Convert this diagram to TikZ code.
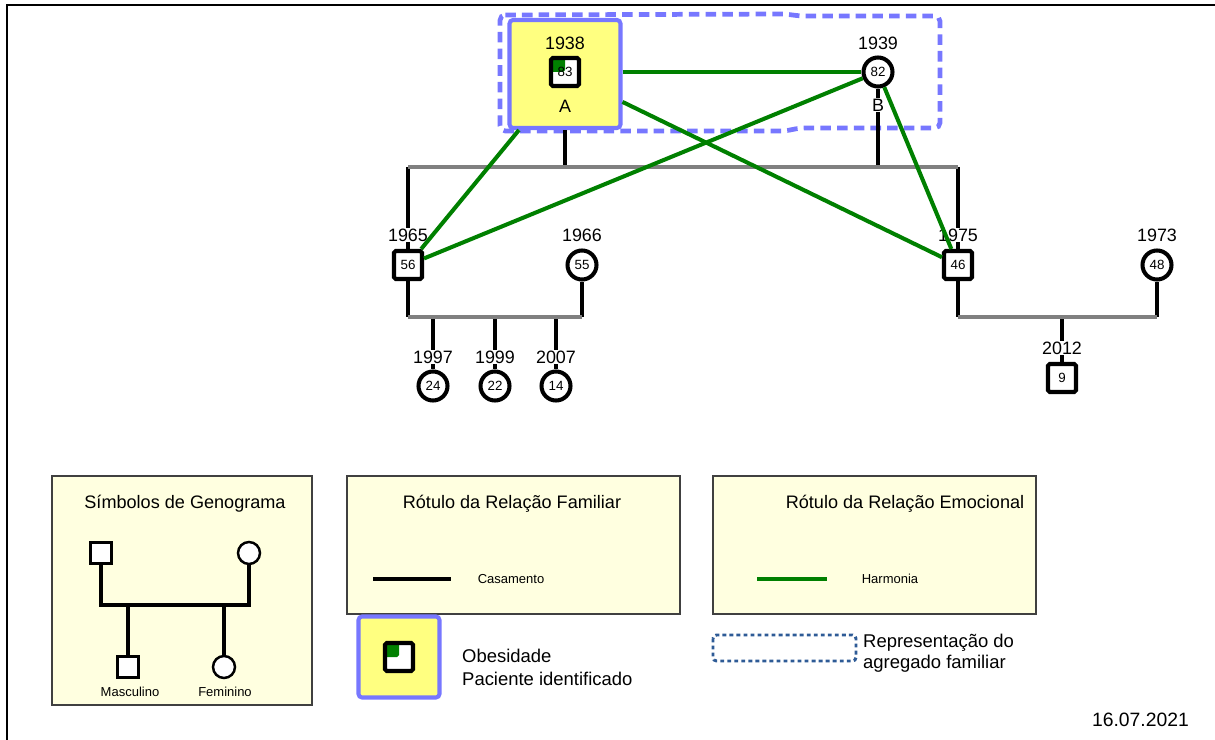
\documentclass[tikz,border=0pt]{standalone}
\usepackage{fontspec}
\setmainfont{Liberation Sans}
\usetikzlibrary{positioning}
\definecolor{hiyellow}{HTML}{FFFF80}
\definecolor{hiblue}{HTML}{7777FF}
\definecolor{legendbg}{HTML}{FFFFE0}
\definecolor{relgreen}{HTML}{008000}
\definecolor{bargray}{HTML}{808080}
\definecolor{dotblue}{HTML}{2E5B96}

\begin{document}
\begin{tikzpicture}[x=0.02cm,y=-0.02cm,
	male/.style={draw=black,line width=2.3pt,fill=white,minimum size=0.56cm,rounded corners=1pt,inner sep=0pt,font=\fontsize{7.6}{8}\selectfont},
	female/.style={circle,draw=black,line width=2.3pt,fill=white,minimum size=0.58cm,inner sep=0pt,font=\fontsize{7.6}{8}\selectfont},
	index/.style={male,path picture={\fill[relgreen] (path picture bounding box.north west) rectangle (path picture bounding box.center);}},
	smale/.style={draw=black,line width=1.4pt,fill=white,minimum size=0.42cm,inner sep=0pt},
	sfemale/.style={circle,draw=black,line width=1.4pt,fill=white,minimum size=0.44cm,inner sep=0pt},
	year/.style={fill=white,inner sep=0.6pt,font=\fontsize{10.2}{12}\selectfont},
	parent/.style={line width=2.3pt,black},
	union/.style={line width=2.3pt,bargray},
	harmony/.style={line width=2.3pt,relgreen},
	legendbox/.style={draw=black!75,line width=0.9pt,fill=legendbg},
	title/.style={font=\fontsize{10.3}{12}\selectfont},
	small/.style={font=\fontsize{7.4}{9}\selectfont},
	txt/.style={anchor=west,font=\fontsize{10.5}{12.5}\selectfont},
	patient/.style={draw=hiblue,fill=hiyellow,line width=2.3pt,rounded corners=2pt}]
	\useasboundingbox (0,0) rectangle (1215,740);
	% frame
	\draw[line width=1.2pt] (7,740) -- (7,5) -- (1215,5);

	% household
	\draw[hiblue,line width=2.7pt,dash pattern=on 6pt off 3.5pt,rounded corners=3pt]
	(500,15) -- (785,14) -- (800,16) -- (940,16) -- (940,128) -- (800,128) -- (785,131) -- (500,131) -- cycle;
	\node[patient,minimum width=2.22cm,minimum height=2.16cm] (Abox) at (565,74) {};

	% persons
	\node[index] (pA) at (565,72) {83};
	\node[female] (pB) at (878,72) {82};
	\node[male] (n56) at (408,265) {56};
	\node[female] (n55) at (582,265) {55};
	\node[male] (n46) at (958,265) {46};
	\node[female] (n48) at (1157,265) {48};
	\node[female] (c24) at (433,386) {24};
	\node[female] (c22) at (495,386) {22};
	\node[female] (c14) at (556,386) {14};
	\node[male] (c9) at (1062,378) {9};

	% marriage A - B
	\coordinate (jA) at (565,167);
	\coordinate (jB) at (878,167);
	\coordinate (j56) at (408,167);
	\coordinate (j46) at (958,167);
	\draw[parent] (Abox.south) -- (jA);
	\draw[parent] (pB) -- (jB);
	\draw[parent] (j56) -- (n56);
	\draw[parent] (j46) -- (n46);
	\draw[union] (j56) -- (j46);

	% marriage 56 - 55
	\coordinate (k56) at (408,317);
	\coordinate (k55) at (582,317);
	\draw[parent] (n56) -- (k56);
	\draw[parent] (n55) -- (k55);
	\foreach \c/\x in {c24/433,c22/495,c14/556}
	{
		\coordinate (k\c) at (\x,317);
		\draw[parent] (k\c) -- (\c);
	}
	\draw[union] (k56) -- (k55);

	% marriage 46 - 48
	\coordinate (k46) at (958,317);
	\coordinate (k48) at (1157,317);
	\coordinate (kc9) at (1062,317);
	\draw[parent] (n46) -- (k46);
	\draw[parent] (n48) -- (k48);
	\draw[parent] (kc9) -- (c9);
	\draw[union] (k46) -- (k48);

	% years and names
	\node[year,fill=none] at (565,43) {1938};
	\node[year,fill=none] at (565,106) {A};
	\node[year] at (878,43) {1939};
	\node[year] at (878,105) {B};
	\foreach \x/\y/\t in {408/235/1965,582/235/1966,958/235/1975,1157/235/1973,433/357/1997,495/357/1999,556/357/2007,1062/348/2012}
	{
		\node[year] at (\x,\y) {\t};
	}

	% emotional relations
	\draw[harmony] (Abox.east |- pB) -- (pB);
	\draw[harmony] (Abox) -- (n56);
	\draw[harmony] (Abox) -- (n46);
	\draw[harmony] (pB) -- (n56);
	\draw[harmony] (pB) -- (n46);

	% legend: symbols
	\draw[legendbox] (52,476) rectangle (312,705);
	\node[title] at (185,504) {Símbolos de Genograma};
	\node[smale] (lM) at (101,553) {};
	\node[sfemale] (lF) at (249,553) {};
	\node[smale] (lS) at (128,667) {};
	\node[sfemale] (lD) at (224,667) {};
	\coordinate (lj1) at (101,605);
	\coordinate (lj2) at (249,605);
	\coordinate (lj3) at (128,605);
	\coordinate (lj4) at (224,605);
	\draw[parent] (lM) -- (lj1) -- (lj2) -- (lF);
	\draw[parent] (lj3) -- (lS);
	\draw[parent] (lj4) -- (lD);
	\node[small] at (130,692) {Masculino};
	\node[small] at (225,692) {Feminino};

	% legend: family relation
	\draw[legendbox] (347,476) rectangle (680,614);
	\node[title] at (512,504) {Rótulo da Relação Familiar};
	\draw[parent] (373,579) -- (451,579);
	\node[small] at (511,579) {Casamento};

	% legend: emotional relation
	\draw[legendbox] (713,476) rectangle (1036,614);
	\node[title] at (905,504) {Rótulo da Relação Emocional};
	\draw[harmony] (757,579) -- (827,579);
	\node[small] at (890,579) {Harmonia};

	% legend: patient and household
	\node[patient,minimum width=1.62cm,minimum height=1.62cm] (lP) at (399,657) {};
	\node[index] at (399,657) {};
	\node[txt] at (456,656) {Obesidade};
	\node[txt] at (456,679) {Paciente identificado};
	\draw[dotblue,line width=1.7pt,dash pattern=on 2.2pt off 1.8pt,rounded corners=2pt] (713,635) rectangle (856,661);
	\node[txt] at (857,643) {Representação do};
	\node[txt] at (857,664) {agregado familiar};

	\node[anchor=east,font=\fontsize{11}{13}\selectfont] at (1195,720) {16.07.2021};
\end{tikzpicture}
\end{document}
